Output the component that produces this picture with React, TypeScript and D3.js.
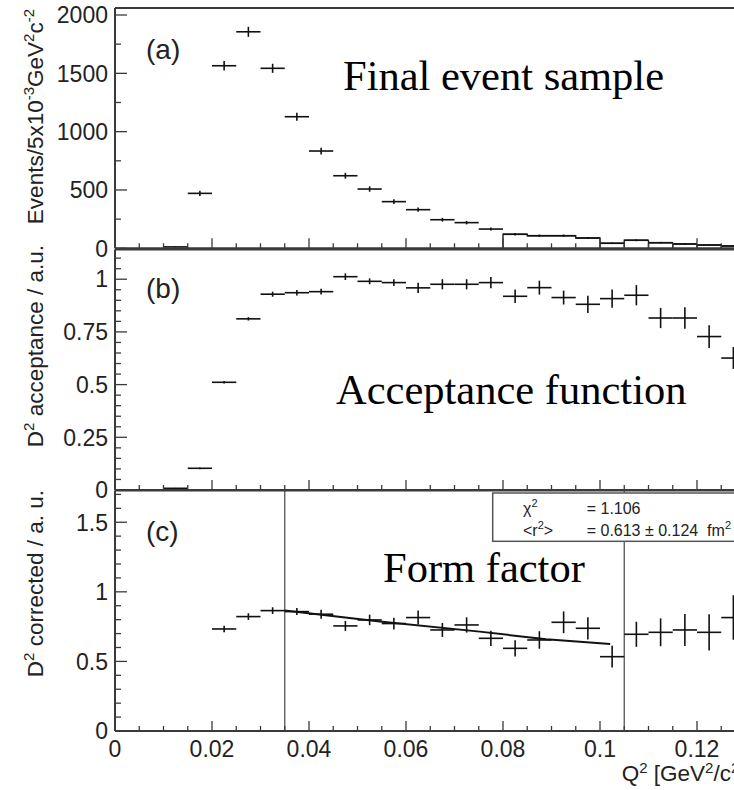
import React from 'react';
import * as d3 from 'd3';

// Q^2 bin centres [GeV^2/c^2], bin width 0.005
const binCenters = [0.0125, 0.0175, 0.0225, 0.0275, 0.0325, 0.0375, 0.0425, 0.0475, 0.0525, 0.0575, 0.0625, 0.0675, 0.0725, 0.0775, 0.0825, 0.0875, 0.0925, 0.0975, 0.1025, 0.1075, 0.1125, 0.1175, 0.1225, 0.1275];

// (a) final event sample
const eventCounts = [12, 471, 1565, 1856, 1543, 1128, 834, 622, 508, 400, 331, 245, 220, 165, 120, 108, 108, 88, 43, 69, 48, 37, 28, 20];
const eventErrors = [3.5, 22, 40, 43, 39, 34, 29, 25, 23, 20, 18, 16, 15, 13, 11, 10, 10, 9, 7, 8, 7, 6, 5, 4];

// (b) acceptance
const acceptance = [0.008, 0.103, 0.511, 0.812, 0.929, 0.936, 0.941, 1.012, 0.99, 0.984, 0.959, 0.976, 0.976, 0.984, 0.919, 0.96, 0.913, 0.881, 0.908, 0.924, 0.816, 0.816, 0.728, 0.626];
const acceptanceErrors = [0.002, 0.004, 0.006, 0.008, 0.012, 0.013, 0.014, 0.016, 0.014, 0.016, 0.024, 0.024, 0.024, 0.027, 0.032, 0.033, 0.033, 0.041, 0.043, 0.048, 0.048, 0.051, 0.054, 0.052];

// (c) corrected (form factor), bins from 0.02
const ffCenters = [0.0225, 0.0275, 0.0325, 0.0375, 0.0425, 0.0475, 0.0525, 0.0575, 0.0625, 0.0675, 0.0725, 0.0775, 0.0825, 0.0875, 0.0925, 0.0975, 0.1025, 0.1075, 0.1125, 0.1175, 0.1225, 0.1275];
const ffValues = [0.733, 0.822, 0.865, 0.858, 0.839, 0.755, 0.798, 0.772, 0.815, 0.726, 0.762, 0.666, 0.594, 0.654, 0.781, 0.738, 0.534, 0.695, 0.709, 0.726, 0.709, 0.815];
const ffErrors = [0.024, 0.024, 0.024, 0.025, 0.032, 0.036, 0.038, 0.042, 0.05, 0.05, 0.055, 0.055, 0.058, 0.063, 0.078, 0.08, 0.078, 0.09, 0.1, 0.115, 0.13, 0.16];

// fit curve
const fitQ2 = [0.035, 0.0546, 0.0752, 0.0889, 0.1021];
const fitF = [0.865, 0.786, 0.714, 0.659, 0.625];
const fitRange = [0.035, 0.105];

const xTickLabels = ['0', '0.02', '0.04', '0.06', '0.08', '0.1', '0.12'];
const xTickValues = [0, 0.02, 0.04, 0.06, 0.08, 0.1, 0.12];
const yTicksA = [0, 500, 1000, 1500, 2000];
const yTicksB = [0, 0.25, 0.5, 0.75, 1];
const yTicksC = [0, 0.5, 1, 1.5];

const SANS = '"Liberation Sans", Arial, Helvetica, sans-serif';
const SERIF = '"Liberation Serif", "Times New Roman", serif';
const HALF = 0.0025;
const FRAME = '#3a3a3a';
const TXT = '#222';

const x = d3.scaleLinear().domain([0, 0.13]).range([115, 745.5]);

type Panel = {
  top: number; bottom: number; y: d3.ScaleLinear<number, number>;
  major: number[]; minorStep: number; fmt: (v: number) => string;
};

const panelA: Panel = {
  top: 8, bottom: 248.3,
  y: d3.scaleLinear().domain([0, 2060]).range([248.3, 8]),
  major: yTicksA, minorStep: 250, fmt: (v) => String(v),
};
const panelB: Panel = {
  top: 249.5, bottom: 490,
  y: d3.scaleLinear().domain([0, 1.141]).range([490, 249.5]),
  major: yTicksB, minorStep: 0.05, fmt: (v) => String(v),
};
const panelC: Panel = {
  top: 490.5, bottom: 731,
  y: d3.scaleLinear().domain([0, 1.728]).range([731, 490.5]),
  major: yTicksC, minorStep: 0.1, fmt: (v) => String(v),
};

function Axes({ p }: { p: Panel }) {
  const xMinor = d3.range(0, 0.1301, 0.005);
  const [d0, d1] = p.y.domain();
  const yMinor = d3.range(d0, d1 + 1e-9, p.minorStep);
  return (
    <g>
      {xMinor.map((t, i) => {
        const isMajor = Math.abs(t / 0.02 - Math.round(t / 0.02)) < 1e-6;
        return <line key={'xm' + i} x1={x(t)} x2={x(t)} y1={p.bottom} y2={p.bottom - (isMajor ? 10 : 5)} stroke={FRAME} strokeWidth={1.3} />;
      })}
      {yMinor.map((t, i) => {
        const isMajor = p.major.some((m) => Math.abs(m - t) < 1e-6);
        return <line key={'ym' + i} x1={x(0)} x2={x(0) + (isMajor ? 12 : 6)} y1={p.y(t)} y2={p.y(t)} stroke={FRAME} strokeWidth={1.3} />;
      })}
      {p.major.map((t, i) => (
        <text key={'yl' + i} x={108} y={p.y(t)} dy="0.36em" textAnchor="end" fontFamily={SANS} fontSize={23} fill={TXT}>{p.fmt(t)}</text>
      ))}
      <line x1={x(0)} x2={x(0)} y1={p.top} y2={p.bottom} stroke={FRAME} strokeWidth={2} />
      <line x1={x(0)} x2={x(0.13)} y1={p.bottom} y2={p.bottom} stroke={FRAME} strokeWidth={2} />
      <line x1={x(0)} x2={x(0.13)} y1={p.top} y2={p.top} stroke={FRAME} strokeWidth={2} />
    </g>
  );
}

function Crosses({ centers, values, errors, y, sw = 1.6 }: { centers: number[]; values: number[]; errors: number[]; y: d3.ScaleLinear<number, number>; sw?: number }) {
  return (
    <g stroke="#111" strokeWidth={sw}>
      {centers.map((c, i) => (
        <g key={i}>
          <line x1={x(c - HALF)} x2={x(c + HALF)} y1={y(values[i])} y2={y(values[i])} />
          <line x1={x(c)} x2={x(c)} y1={y(values[i] - errors[i])} y2={y(values[i] + errors[i])} />
        </g>
      ))}
    </g>
  );
}

function TailOutline() {
  const y = panelA.y;
  const parts: string[] = [];
  let started = false;
  binCenters.forEach((c, i) => {
    if (c < 0.08) return;
    const v = eventCounts[i];
    const lo = x(c - HALF), hi = x(c + HALF);
    if (!started) { parts.push(`M${lo},${y(0)}L${lo},${y(v)}`); started = true; }
    else parts.push(`L${lo},${y(v)}`);
    parts.push(`L${hi},${y(v)}`);
    if (c > 0.1) parts.push(`M${lo},${y(v)}L${lo},${y(0)}M${hi},${y(0)}L${hi},${y(v)}`);
  });
  return <path d={parts.join('')} fill="none" stroke="#222" strokeWidth={1.4} />;
}

export default function App() {
  const fitLine = d3.line<number>().x((_, i) => x(fitQ2[i])).y((d) => panelC.y(d));
  return (
    <svg width={734} height={790} style={{ position: 'absolute', left: 0, top: 0, background: '#fff' }}>
      <rect x={0} y={0} width={734} height={790} fill="#fff" />

      {/* panel (a) */}
      <TailOutline />
      <Crosses centers={binCenters} values={eventCounts} errors={eventErrors} y={panelA.y} sw={1.6} />
      <Axes p={panelA} />
      <text x={146} y={59} fontFamily={SANS} fontSize={28} fill={TXT}>(a)</text>
      <text fontFamily={SANS} fontSize={22.5} fill={TXT} textAnchor="end" transform="translate(43,9) rotate(-90)">
        Events/5x10<tspan dy={-9} fontSize={15}>-3</tspan><tspan dy={9}>GeV</tspan><tspan dy={-9} fontSize={15}>2</tspan><tspan dy={9}>c</tspan><tspan dy={-9} fontSize={15}>-2</tspan>
      </text>
      <text x={343} y={90} fontFamily={SERIF} fontSize={42.5} fill="#000">Final event sample</text>

      {/* panel (b) */}
      <Crosses centers={binCenters} values={acceptance} errors={acceptanceErrors} y={panelB.y} sw={1.6} />
      <Axes p={panelB} />
      <text x={146} y={298} fontFamily={SANS} fontSize={28} fill={TXT}>(b)</text>
      <text fontFamily={SANS} fontSize={22.5} fill={TXT} textAnchor="end" transform="translate(43,245) rotate(-90)">
        D<tspan dy={-9} fontSize={15}>2</tspan><tspan dy={9}> acceptance / a.u.</tspan>
      </text>
      <text x={336} y={404} fontFamily={SERIF} fontSize={42.5} fill="#000">Acceptance function</text>

      {/* panel (c) */}
      {fitRange.map((q, i) => (
        <line key={i} x1={x(q)} x2={x(q)} y1={panelC.top} y2={panelC.bottom} stroke="#555" strokeWidth={1.3} />
      ))}
      <path d={fitLine(fitF) || ''} fill="none" stroke="#111" strokeWidth={2} />
      <Crosses centers={ffCenters} values={ffValues} errors={ffErrors} y={panelC.y} sw={1.6} />
      <Axes p={panelC} />
      <rect x={492.7} y={493} width={260} height={48.3} fill="#fff" stroke="#555" strokeWidth={1.5} />
      <text x={523} y={514} fontFamily={SANS} fontSize={16} fill={TXT}>χ<tspan dy={-7} fontSize={11}>2</tspan></text>
      <text x={586.7} y={514} fontFamily={SANS} fontSize={16} fill={TXT}>= 1.106</text>
      <text x={523} y={536} fontFamily={SANS} fontSize={16} fill={TXT}>&lt;r<tspan dy={-7} fontSize={11}>2</tspan><tspan dy={7}>&gt;</tspan></text>
      <text x={586.7} y={536} fontFamily={SANS} fontSize={16} fill={TXT} xmlSpace="preserve">= 0.613 ± 0.124  fm<tspan dy={-7} fontSize={11}>2</tspan></text>
      <text x={146} y={541} fontFamily={SANS} fontSize={28} fill={TXT}>(c)</text>
      <text fontFamily={SANS} fontSize={22.5} fill={TXT} textAnchor="end" transform="translate(43,490) rotate(-90)">
        D<tspan dy={-9} fontSize={15}>2</tspan><tspan dy={9}> corrected / a. u.</tspan>
      </text>
      <text x={383} y={582} fontFamily={SERIF} fontSize={42.5} fill="#000">Form factor</text>

      {/* x axis labels */}
      {xTickValues.map((t, i) => (
        <text key={i} x={x(t)} y={757} textAnchor="middle" fontFamily={SANS} fontSize={23} fill={TXT}>{xTickLabels[i]}</text>
      ))}
      <text x={745.5} y={781} textAnchor="end" fontFamily={SANS} fontSize={22.5} fill={TXT}>
        Q<tspan dy={-8} fontSize={15}>2</tspan><tspan dy={8}> [GeV</tspan><tspan dy={-8} fontSize={15}>2</tspan><tspan dy={8}>/c</tspan><tspan dy={-8} fontSize={15}>2</tspan><tspan dy={8}>]</tspan>
      </text>
    </svg>
  );
}
